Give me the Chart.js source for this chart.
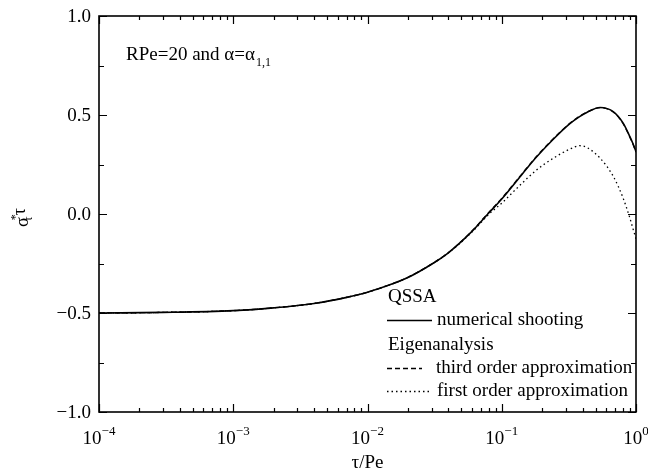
<!DOCTYPE html>
<html>
<head>
<meta charset="utf-8">
<script src="https://cdn.jsdelivr.net/npm/chart.js@4.4.1/dist/chart.umd.min.js"></script>
<style>
  body { margin: 0; background: #fff; }
  canvas { display: block; }
</style>
</head>
<body>
<canvas id="sigmaChart" width="648" height="475"></canvas>
<script>
// tau/Pe sample points (log axis)
const tauPe = [1e-4, 3e-4, 1e-3, 2e-3, 4e-3, 7e-3, 0.01, 0.015, 0.02, 0.03, 0.04, 0.06, 0.08,
    0.1, 0.14, 0.18, 0.24, 0.32, 0.38, 0.43, 0.54, 0.68, 0.8, 0.9, 0.95, 1.0];

// QSSA, numerical shooting
const numericalShooting = [-0.500, -0.497, -0.488, -0.474, -0.452, -0.421, -0.395, -0.355, -0.321, -0.254, -0.196, -0.088, 0.005,
    0.076, 0.196, 0.285, 0.375, 0.455, 0.492, 0.513, 0.538, 0.516, 0.460, 0.391, 0.355, 0.315];

// Eigenanalysis, third order approximation
const thirdOrder = [-0.500, -0.497, -0.488, -0.474, -0.452, -0.421, -0.395, -0.355, -0.320, -0.253, -0.195, -0.086, 0.008,
    0.079, 0.199, 0.288, 0.378, 0.457, 0.494, 0.514, 0.537, 0.514, 0.457, 0.388, 0.352, 0.312];

// Eigenanalysis, first order approximation
const firstOrder = [-0.500, -0.497, -0.488, -0.474, -0.452, -0.421, -0.395, -0.355, -0.321, -0.254, -0.197, -0.091, -0.002,
    0.055, 0.152, 0.220, 0.280, 0.327, 0.345, 0.336, 0.282, 0.188, 0.082, -0.020, -0.075, -0.125];

const xDecades = [-4, -3, -2, -1, 0];
const yMajorTicks = [-1.0, -0.5, 0.0, 0.5, 1.0];
const yMinorTicks = [-0.75, -0.25, 0.25, 0.75];

const FONT = "'Liberation Serif', 'Times New Roman', serif";

const toPoints = arr => tauPe.map((t, i) => ({ x: t, y: arr[i] }));

// draws base text then a small raised part, returns total width
function drawScript(ctx, x, y, base, sup, size, supSize, rise) {
    ctx.font = size + 'px ' + FONT;
    ctx.fillText(base, x, y);
    const w = ctx.measureText(base).width;
    ctx.font = supSize + 'px ' + FONT;
    ctx.fillText(sup, x + w, y - rise);
    return w + ctx.measureText(sup).width;
}

const axesPlugin = {
    id: 'axesPlugin',
    afterDraw(chart) {
        const ctx = chart.ctx;
        const xs = chart.scales.x;
        const ys = chart.scales.y;
        const { left, right, top, bottom } = chart.chartArea;

        ctx.save();
        ctx.strokeStyle = '#000';
        ctx.fillStyle = '#000';
        ctx.lineWidth = 1.6;
        ctx.strokeRect(left, top, right - left, bottom - top);

        // tick marks, all pointing inward
        ctx.lineWidth = 1.2;
        ctx.beginPath();
        xDecades.forEach(e => {
            const px = Math.round(xs.getPixelForValue(Math.pow(10, e))) + 0.5;
            ctx.moveTo(px, bottom); ctx.lineTo(px, bottom - 8);
            ctx.moveTo(px, top); ctx.lineTo(px, top + 8);
            if (e < 0) {
                for (let m = 2; m <= 9; m++) {
                    const mx = Math.round(xs.getPixelForValue(m * Math.pow(10, e))) + 0.5;
                    ctx.moveTo(mx, bottom); ctx.lineTo(mx, bottom - 4);
                    ctx.moveTo(mx, top); ctx.lineTo(mx, top + 4);
                }
            }
        });
        yMajorTicks.forEach(v => {
            const py = Math.round(ys.getPixelForValue(v)) + 0.5;
            ctx.moveTo(left, py); ctx.lineTo(left + 8, py);
            ctx.moveTo(right, py); ctx.lineTo(right - 8, py);
        });
        yMinorTicks.forEach(v => {
            const py = Math.round(ys.getPixelForValue(v)) + 0.5;
            ctx.moveTo(left, py); ctx.lineTo(left + 5, py);
            ctx.moveTo(right, py); ctx.lineTo(right - 5, py);
        });
        ctx.stroke();

        // y tick labels
        ctx.font = '19px ' + FONT;
        ctx.textAlign = 'right';
        ctx.textBaseline = 'middle';
        yMajorTicks.forEach(v => {
            const label = (v < 0 ? '\u2212' : '') + Math.abs(v).toFixed(1);
            ctx.fillText(label, left - 8, ys.getPixelForValue(v) + 1);
        });

        // x tick labels 10^e
        ctx.textAlign = 'left';
        ctx.textBaseline = 'alphabetic';
        xDecades.forEach(e => {
            const px = xs.getPixelForValue(Math.pow(10, e));
            const sup = e < 0 ? '\u2212' + Math.abs(e) : String(e);
            ctx.font = '19px ' + FONT;
            const wb = ctx.measureText('10').width;
            ctx.font = '13px ' + FONT;
            const ws = ctx.measureText(sup).width;
            drawScript(ctx, px - (wb + ws) / 2, bottom + 32, '10', sup, 19, 13, 9);
        });

        // x axis title
        ctx.font = '19px ' + FONT;
        ctx.textAlign = 'center';
        ctx.fillText('\u03c4/Pe', (left + right) / 2, 468);

        // y axis title: sigma*_tau tau, rotated
        ctx.save();
        ctx.translate(28, 227);
        ctx.rotate(-Math.PI / 2);
        ctx.textAlign = 'left';
        ctx.font = '18px ' + FONT;
        ctx.fillText('\u03c3', 0, 0);
        const wsig = ctx.measureText('\u03c3').width;
        ctx.font = '12px ' + FONT;
        ctx.fillText('*', wsig - 3, -9);
        ctx.fillText('\u03c4', wsig - 4, 4);
        ctx.font = '18px ' + FONT;
        ctx.fillText('\u03c4', wsig + 2, -3);
        ctx.restore();

        // parameter note
        ctx.textAlign = 'left';
        ctx.font = '19px ' + FONT;
        const note = 'RPe=20 and \u03b1=\u03b1';
        ctx.fillText(note, 126, 60);
        const wn = ctx.measureText(note).width;
        ctx.font = '12px ' + FONT;
        ctx.fillText('1,1', 126 + wn + 1, 66);

        // legend with group headings
        const ds = chart.data.datasets;
        const rows = [
            { head: 'QSSA', y: 297 },
            { set: ds[0], y: 320, x1: 432, tx: 437 },
            { head: 'Eigenanalysis', y: 345 },
            { set: ds[1], y: 368, x1: 422, tx: 436 },
            { set: ds[2], y: 391, x1: 430, tx: 437 }
        ];
        ctx.font = '19px ' + FONT;
        ctx.textBaseline = 'middle';
        rows.forEach(r => {
            if (r.head) {
                ctx.fillText(r.head, 388, r.y);
                return;
            }
            ctx.save();
            ctx.lineWidth = r.set.borderWidth;
            ctx.setLineDash(r.set.borderDash || []);
            ctx.beginPath();
            ctx.moveTo(387, r.y + 0.5);
            ctx.lineTo(r.x1, r.y + 0.5);
            ctx.stroke();
            ctx.restore();
            ctx.fillText(r.set.label, r.tx, r.y);
        });
        ctx.restore();
    }
};

new Chart(document.getElementById('sigmaChart'), {
    type: 'scatter',
    data: {
        datasets: [
            {
                label: 'numerical shooting',
                data: toPoints(numericalShooting),
                borderColor: '#000',
                borderWidth: 1.6,
                order: 0
            },
            {
                label: 'third order approximation',
                data: toPoints(thirdOrder),
                borderColor: '#000',
                borderWidth: 1.3,
                borderDash: [5, 3],
                order: 1
            },
            {
                label: 'first order approximation',
                data: toPoints(firstOrder),
                borderColor: '#000',
                borderWidth: 1.3,
                borderDash: [1.5, 3],
                order: 2
            }
        ]
    },
    options: {
        responsive: false,
        animation: false,
        showLine: true,
        elements: {
            point: { radius: 0, hoverRadius: 0 },
            line: { cubicInterpolationMode: 'monotone', fill: false }
        },
        layout: { padding: { left: 99, right: 12, top: 16, bottom: 63 } },
        plugins: {
            legend: { display: false },
            tooltip: { enabled: false }
        },
        scales: {
            x: { type: 'logarithmic', min: 1e-4, max: 1, display: false },
            y: { type: 'linear', min: -1, max: 1, display: false }
        }
    },
    plugins: [axesPlugin]
});
</script>
</body>
</html>
